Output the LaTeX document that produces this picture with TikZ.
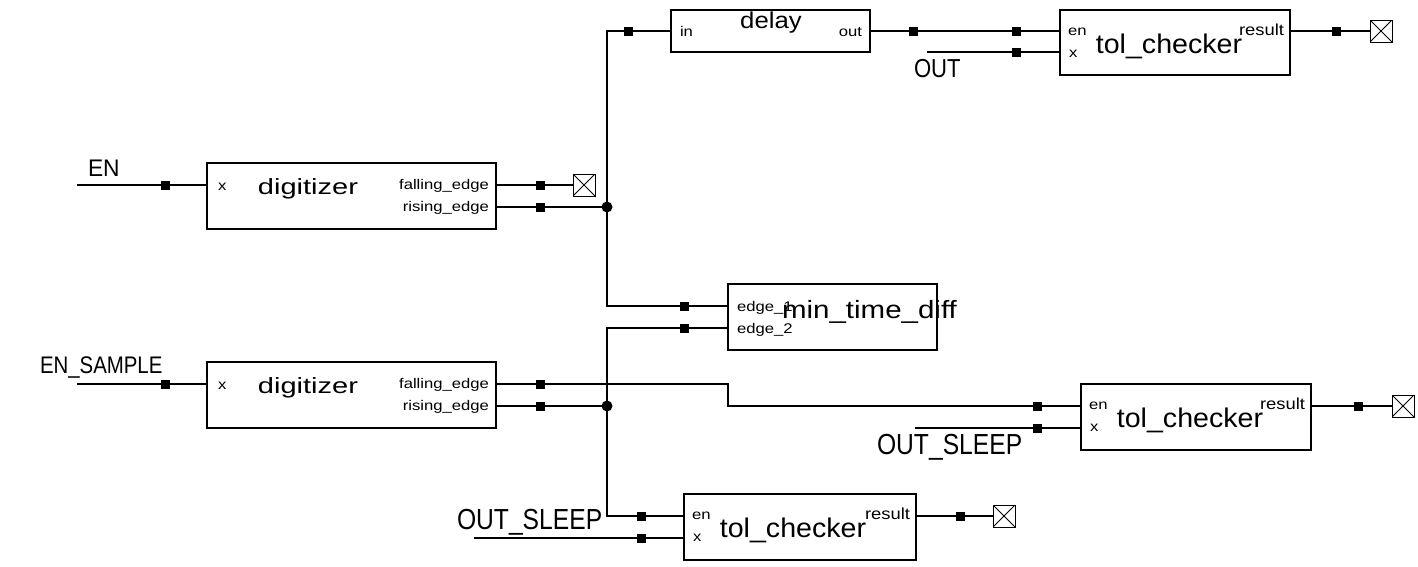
\documentclass[tikz,border=0pt]{standalone}
\usepackage{fontspec}
\setmainfont{Liberation Sans}
% text of a given size, stretched horizontally
\newcommand\txt[3]{{\fontsize{#1}{#1}\selectfont\scalebox{#2}[1]{#3}}}
\newcommand\portlbl[1]{\txt{14}{1.19}{#1}}
\begin{document}
\begin{tikzpicture}[x=1pt,y=-1pt,
  wire/.style={line width=1.2pt,black},
  block/.style={draw,line width=1.2pt,rectangle,inner sep=0pt,outer sep=0pt},
  pinsq/.style={fill=black,rectangle,minimum size=9pt,inner sep=0pt},
  junc/.style={fill=black,circle,minimum size=11pt,inner sep=0pt},
  term/.style={draw,line width=1pt,rectangle,minimum size=22pt,inner sep=0pt,outer sep=0pt,
    path picture={\draw[line width=0.8pt] (path picture bounding box.north west) -- (path picture bounding box.south east)
      (path picture bounding box.south west) -- (path picture bounding box.north east);}},
  lbl/.style={inner sep=0pt,outer sep=0pt}]
\useasboundingbox (0,0) rectangle (1418,566);

% blocks
\node[block,minimum width=289pt,minimum height=66pt] (dig1) at (351.5,196) {};
\node[block,minimum width=289pt,minimum height=66pt] (dig2) at (351.5,395) {};
\node[block,minimum width=199pt,minimum height=42pt] (delay) at (770.5,31) {};
\node[block,minimum width=230pt,minimum height=65pt] (tol1) at (1175,42.5) {};
\node[block,minimum width=209pt,minimum height=66pt] (mtd) at (832.5,317) {};
\node[block,minimum width=230pt,minimum height=66pt] (tol2) at (1196,417) {};
\node[block,minimum width=232pt,minimum height=66pt] (tol3) at (800,527) {};

% unconnected outputs
\node[term] (t1) at (584,185) {};
\node[term] (t2) at (1381,31) {};
\node[term] (t3) at (1403,406) {};
\node[term] (t4) at (1004,516) {};

% port points on the block edges
\coordinate (dig1x) at (207,185);
\coordinate (dig1f) at (496,185);
\coordinate (dig1r) at (496,207);
\coordinate (dig2x) at (207,384);
\coordinate (dig2f) at (496,384);
\coordinate (dig2r) at (496,406);
\coordinate (delin) at (671,31);
\coordinate (delout) at (870,31);
\coordinate (tol1en) at (1060,31);
\coordinate (tol1x) at (1060,52);
\coordinate (tol1res) at (1290,31);
\coordinate (mtde1) at (728,306);
\coordinate (mtde2) at (728,328);
\coordinate (tol2en) at (1081,406);
\coordinate (tol2x) at (1081,428);
\coordinate (tol2res) at (1311,406);
\coordinate (tol3en) at (684,516);
\coordinate (tol3x) at (684,538);
\coordinate (tol3res) at (916,516);

% free wire ends
\coordinate (enin) at (77,185);
\coordinate (ensin) at (77,384);
\coordinate (outin) at (927,52);
\coordinate (os1in) at (915,428);
\coordinate (os2in) at (474,538);

% junctions
\node[junc] (j1) at (607,207) {};
\node[junc] (j2) at (607,406) {};

% nets
\draw[wire] (enin) -- (dig1x);
\draw[wire] (dig1f) -- (t1.west);
\draw[wire] (dig1r) -- (j1.center);
\draw[wire] (delin) -| (607,306) -- (mtde1);
\draw[wire] (delout) -- (tol1en);
\draw[wire] (outin) -- (tol1x);
\draw[wire] (tol1res) -- (t2.west);
\draw[wire] (ensin) -- (dig2x);
\draw[wire] (dig2f) -| (728,406) -- (tol2en);
\draw[wire] (dig2r) -- (j2.center);
\draw[wire] (mtde2) -| (607,516) -- (tol3en);
\draw[wire] (os1in) -- (tol2x);
\draw[wire] (tol2res) -- (t3.west);
\draw[wire] (os2in) -- (tol3x);
\draw[wire] (tol3res) -- (t4.west);

% pin markers
\foreach \n/\x/\y in {p1/165/185, p2/540/185, p3/540/207, p4/628/31, p5/913/31, p6/1016/31,
  p7/1016/52, p8/1336/31, p9/684/306, p10/684/328, p11/165/384, p12/540/384, p13/540/406,
  p14/1037/406, p15/1037/428, p16/1358/406, p17/641/516, p18/641/538, p19/960/516}
  \node[pinsq] (\n) at (\x,\y) {};

% net names
\node[lbl,anchor=base west] (nEN) at (88,176) {\txt{24}{0.95}{EN}};
\node[lbl,anchor=base west] (nENS) at (40,373) {\txt{24}{0.85}{EN\_SAMPLE}};
\node[lbl,anchor=base west] (nOUT) at (914,77) {\txt{26}{0.85}{OUT}};
\node[lbl,anchor=base west] (nOS1) at (877,454) {\txt{29}{0.85}{OUT\_SLEEP}};
\node[lbl,anchor=base west] (nOS2) at (457,529) {\txt{29}{0.85}{OUT\_SLEEP}};

% digitizer labels
\foreach \b/\t in {dig1/163, dig2/362} {
  \node[lbl,anchor=base west] (\b-x) at (218,\t+27) {\portlbl{x}};
  \node[lbl,anchor=base] (\b-name) at (308,\t+31) {\txt{22}{1.32}{digitizer}};
  \node[lbl,anchor=base east] (\b-f) at (489,\t+26) {\portlbl{falling\_edge}};
  \node[lbl,anchor=base east] (\b-r) at (489,\t+48) {\portlbl{rising\_edge}};
}

% delay labels
\node[lbl,anchor=base west] (del-in) at (680,36) {\portlbl{in}};
\node[lbl,anchor=base] (del-name) at (771,28) {\txt{23}{1.12}{delay}};
\node[lbl,anchor=base east] (del-out) at (862,36) {\portlbl{out}};

% min_time_diff labels (the block name runs over its port label)
\node[lbl,anchor=base west] (m-e1) at (737,311) {\portlbl{edge\_1}};
\node[lbl,anchor=base west] (m-e2) at (737,333) {\portlbl{edge\_2}};
\node[lbl,anchor=base west] (m-name) at (782,318) {\txt{25}{1.18}{min\_time\_diff}};

% tol_checker labels
\foreach \b/\l/\r/\t in {tol1/1060/1290/10, tol2/1081/1311/384, tol3/684/916/494} {
  \node[lbl,anchor=base west] (\b-en) at (\l+8,\t+25) {\portlbl{en}};
  \node[lbl,anchor=base west] (\b-x) at (\l+9,\t+47) {\portlbl{x}};
  \node[lbl,anchor=base] (\b-name) at (\l+109,\t+43) {\txt{27}{1.06}{tol\_checker}};
  \node[lbl,anchor=base east] (\b-res) at (\r-6,\t+25) {\txt{16}{1.15}{result}};
}
\end{tikzpicture}
\end{document}
